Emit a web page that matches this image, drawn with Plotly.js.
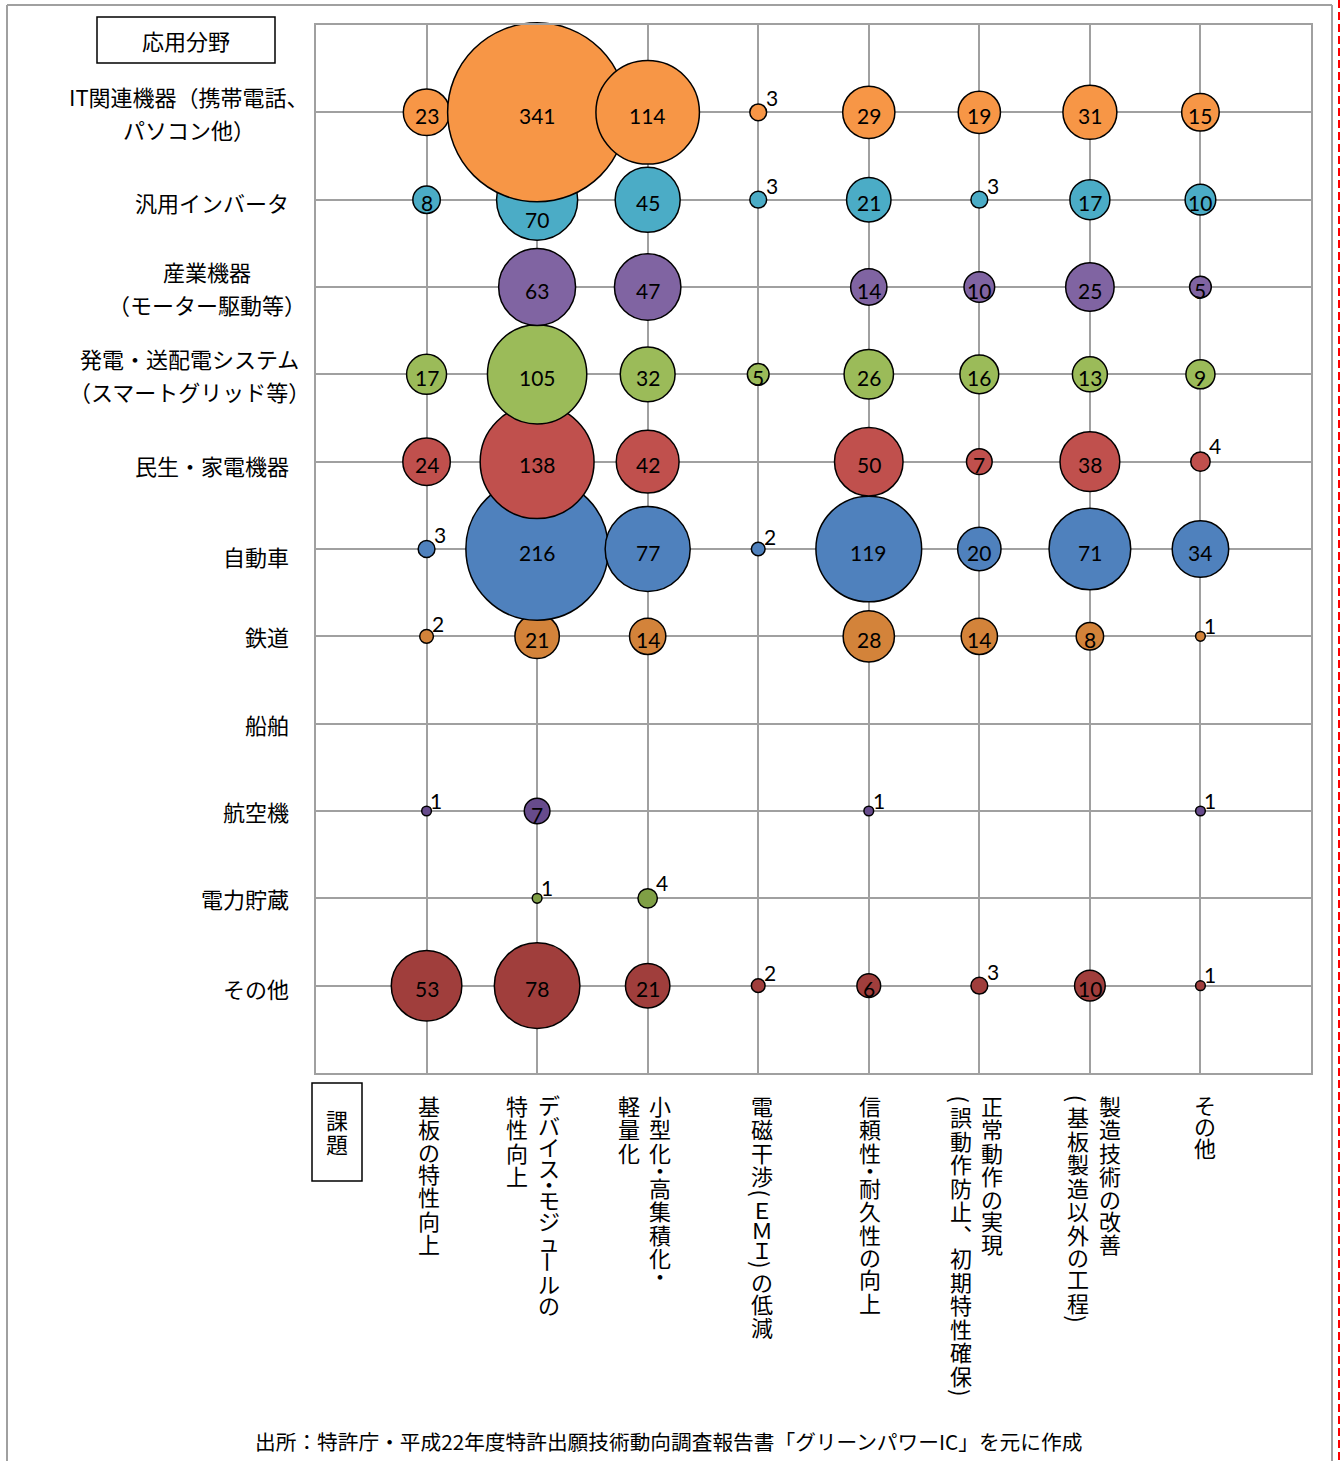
<!DOCTYPE html>
<html>
<head>
<meta charset="utf-8">
<script src="https://cdn.plot.ly/plotly-3.0.1.min.js"></script>
<style>html,body{margin:0;padding:0;background:#fff;}#chart{width:1340px;height:1461px;}</style>
</head>
<body>
<div id="chart"></div>
<script>
// ---------- DATA ----------
const rowLabels = [
  ['IT関連機器（携帯電話、', 'パソコン他）'],
  ['汎用インバータ'],
  ['産業機器', '（モーター駆動等）'],
  ['発電・送配電システム', '（スマートグリッド等）'],
  ['民生・家電機器'],
  ['自動車'],
  ['鉄道'],
  ['船舶'],
  ['航空機'],
  ['電力貯蔵'],
  ['その他']
];
const colLabels = [
  ['基板の特性向上'],
  ['デバイス・モジュールの', '特性向上'],
  ['小型化・高集積化・', '軽量化'],
  ['電磁干渉（ＥＭＩ）の低減'],
  ['信頼性・耐久性の向上'],
  ['正常動作の実現', '（誤動作防止、初期特性確保）'],
  ['製造技術の改善', '（基板製造以外の工程）'],
  ['その他']
];
const itValues       = [23, 341, 114, 3, 29, 19, 31, 15];
const inverterValues = [8, 70, 45, 3, 21, 3, 17, 10];
const industryValues = [null, 63, 47, null, 14, 10, 25, 5];
const powerValues    = [17, 105, 32, 5, 26, 16, 13, 9];
const consumerValues = [24, 138, 42, null, 50, 7, 38, 4];
const autoValues     = [3, 216, 77, 2, 119, 20, 71, 34];
const railValues     = [2, 21, 14, null, 28, 14, 8, 1];
const shipValues     = [null, null, null, null, null, null, null, null];
const aircraftValues = [1, 7, null, null, 1, null, null, 1];
const storageValues  = [null, 1, 4, null, null, null, null, null];
const otherValues    = [53, 78, 21, 2, 6, 3, 10, 1];
const seriesValues = [itValues, inverterValues, industryValues, powerValues, consumerValues,
  autoValues, railValues, shipValues, aircraftValues, storageValues, otherValues];
const axisTitleY = '応用分野';
const axisTitleX = '課題';
const sourceText = '出所：特許庁・平成22年度特許出願技術動向調査報告書「グリーンパワーIC」を元に作成';

// ---------- STYLE ----------
const rowColors = ['#F79646', '#4BACC6', '#8064A2', '#9BBB59', '#C0504D', '#4F81BD',
  '#D3833A', '#31859C', '#674B8C', '#7F9F45', '#A03E3C'];
const W = 1340, H = 1461, PL = 316, PR = 1311, PT = 25, PB = 1073;
const px = x => (x - PL) / (PR - PL);
const py = y => (PB - y) / (PB - PT);
const jp = '"Noto Sans CJK JP", "Noto Sans", sans-serif';
const num = 'Lato, "Noto Sans", sans-serif';
const gridColor = '#A0A0A0';
const maxDiam = 179;
const maxVal = Math.max(...seriesValues.flat().filter(v => v != null));
const sizeref = 2 * maxVal / (maxDiam * maxDiam);
const radiusOf = v => Math.sqrt(2 * v / sizeref) / 2;
const rowLabelCenter = [189, null, 207, 189];
const rowLabelRight = 291;
const rowLabelYShift = [0, -2, 0, 0, -3, -7, 0, 0, 0, 0, -2];
const rowLineGap = 16.5;
const colLabelOffsets = [[2], [12, -20], [12, -19], [4], [1], [13, -18], [20, -12], [5]];
const colLabelTop = 1093;
const shiftedLabel = {row: 1, col: 1, dy: -20};
const outsideThreshold = 5;

// ---------- TRACES ----------
const traces = [];
for (let r = seriesValues.length - 1; r >= 0; r--) {
  const xs = [], ys = [], ss = [];
  seriesValues[r].forEach((v, c) => {
    if (v == null) return;
    xs.push(c); ys.push(r); ss.push(v);
  });
  if (!xs.length) continue;
  traces.push({
    type: 'scatter', mode: 'markers', x: xs, y: ys,
    marker: {size: ss, sizemode: 'area', sizeref: sizeref, color: rowColors[r], opacity: 1,
      line: {color: '#000', width: 1.5}},
    hoverinfo: 'skip', showlegend: false, cliponaxis: false
  });
}

// ---------- ANNOTATIONS ----------
const annotations = [];
seriesValues.forEach((vals, r) => {
  vals.forEach((v, c) => {
    if (v == null) return;
    const rad = radiusOf(v);
    let xs = 0, ys = -3;
    if (v < outsideThreshold) { xs = rad + 5; ys = rad + 6; }
    if (r === shiftedLabel.row && c === shiftedLabel.col) ys = shiftedLabel.dy;
    annotations.push({xref: 'x', yref: 'y', x: c, y: r, xshift: xs, yshift: ys,
      xanchor: 'center', yanchor: 'middle', showarrow: false, text: String(v),
      font: {family: num, size: 21, color: '#000'}});
  });
});
rowLabels.forEach((lines, r) => {
  if (lines.length === 1) {
    annotations.push({xref: 'paper', yref: 'y', x: px(rowLabelRight), y: r, yshift: rowLabelYShift[r],
      xanchor: 'right', yanchor: 'middle',
      text: lines[0], showarrow: false, font: {family: jp, size: 22, color: '#000'}});
  } else {
    lines.forEach((t, i) => {
      annotations.push({xref: 'paper', yref: 'y', x: px(rowLabelCenter[r]), y: r, xanchor: 'center', yanchor: 'middle',
        yshift: (i === 0 ? rowLineGap : -rowLineGap) + rowLabelYShift[r],
        text: t, showarrow: false, font: {family: jp, size: 22, color: '#000'}});
    });
  }
});
// vertical writing: one annotation per character; rotate brackets and long-vowel mark
const rotateMap = {'ー': 'ー', '（': '(', '）': ')'};
const vertMap = {'、': '︑'};
function adv(ch) {
  const code = ch.charCodeAt(0);
  if (ch === '・' || ch === '（' || ch === '）') return 11.5;
  if (code >= 0xFF21 && code <= 0xFF5A) return 20;
  if (code >= 0x3040 && code <= 0x30FF) return 21;
  return 23.5;
}
colLabels.forEach((cols, c) => {
  cols.forEach((str, k) => {
    let y = colLabelTop;
    for (const ch of str) {
      const a = adv(ch);
      const yc = y + a / 2;
      const rot = rotateMap[ch];
      annotations.push({xref: 'x', yref: 'paper', x: c, y: 0, xshift: colLabelOffsets[c][k],
        yshift: -(yc - PB), xanchor: 'center', yanchor: 'middle', showarrow: false,
        textangle: rot ? 90 : 0,
        text: rot || vertMap[ch] || ch, font: {family: jp, size: 22, color: '#000'}});
      y += a;
    }
  });
});
[...axisTitleX].forEach((ch, i) => {
  annotations.push({xref: 'paper', yref: 'paper', x: px(337), y: py(1119 + i * 24), xanchor: 'center', yanchor: 'middle',
    showarrow: false, text: ch, font: {family: jp, size: 22, color: '#000'}});
});
annotations.push({xref: 'paper', yref: 'paper', x: px(186), y: py(40), xanchor: 'center', yanchor: 'middle',
  showarrow: false, text: axisTitleY, font: {family: jp, size: 22, color: '#000'}});
annotations.push({xref: 'paper', yref: 'paper', x: px(668), y: py(1441), xanchor: 'center', yanchor: 'middle',
  showarrow: false, text: sourceText, font: {family: jp, size: 20.7, color: '#000'}});

// ---------- SHAPES ----------
const shapes = [
  {type: 'line', xref: 'paper', yref: 'paper', x0: px(7), x1: px(7), y0: py(5), y1: py(1470), line: {color: '#A0A0A0', width: 2}},
  {type: 'line', xref: 'paper', yref: 'paper', x0: px(7), x1: px(1332), y0: py(5), y1: py(5), line: {color: '#A0A0A0', width: 2}},
  {type: 'line', xref: 'paper', yref: 'paper', x0: px(1332), x1: px(1332), y0: py(5), y1: py(1470), line: {color: '#A0A0A0', width: 2}},
  {type: 'line', xref: 'paper', yref: 'paper', x0: px(1339), x1: px(1339), y0: py(0), y1: py(1470), line: {color: '#FF0000', width: 2, dash: '8px,4px'}},
  {type: 'rect', xref: 'paper', yref: 'paper', x0: px(97), x1: px(275), y0: py(17), y1: py(63), line: {color: '#000', width: 1.5}},
  {type: 'rect', xref: 'paper', yref: 'paper', x0: px(312), x1: px(362), y0: py(1083), y1: py(1181), line: {color: '#000', width: 1.5}}
];

const axisCommon = {showgrid: true, gridcolor: gridColor, gridwidth: 2, zeroline: false,
  showline: true, linecolor: gridColor, linewidth: 2, mirror: true, showticklabels: false,
  ticks: '', tick0: 0, dtick: 1, fixedrange: true};

const layout = {
  width: W, height: H,
  margin: {l: PL, r: W - PR, t: PT, b: H - PB, pad: 0},
  paper_bgcolor: '#fff', plot_bgcolor: '#fff',
  xaxis: Object.assign({}, axisCommon, {range: [-1, colLabels.length]}),
  yaxis: Object.assign({}, axisCommon, {range: [rowLabels.length, -1]}),
  annotations: annotations, shapes: shapes, showlegend: false
};

Plotly.newPlot('chart', traces, layout, {displayModeBar: false, staticPlot: true});
</script>
</body>
</html>
